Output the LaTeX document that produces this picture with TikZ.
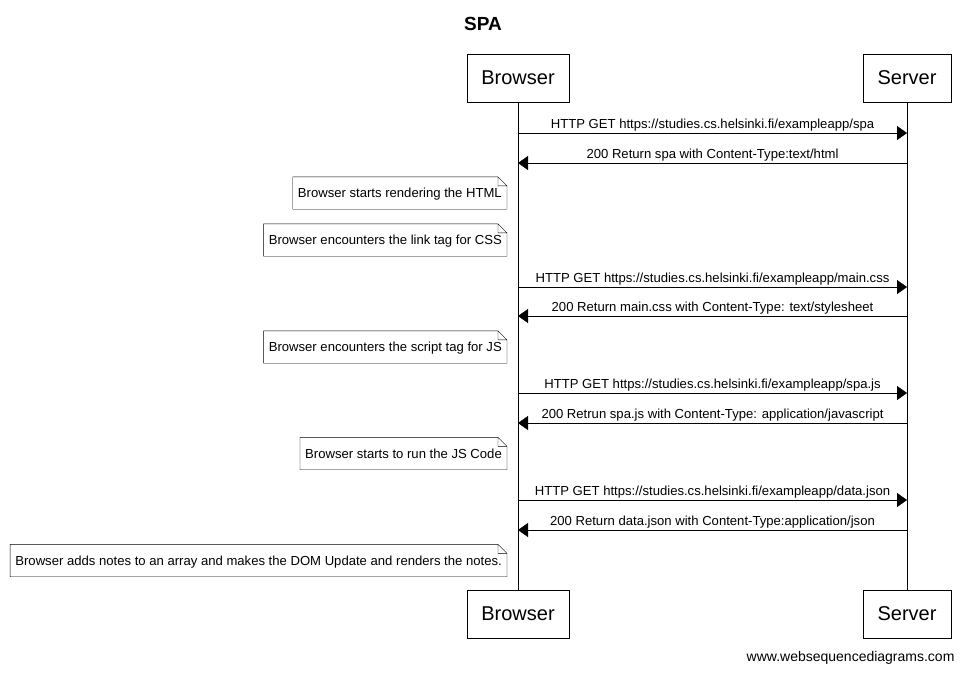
\documentclass[tikz,border=0pt]{standalone}
\usepackage{fontspec}
\setmainfont{Liberation Sans}
\usetikzlibrary{arrows.meta,positioning}
\tikzset{
x=1pt,
y=-1pt,
line width=1pt,
actor/.style={draw, minimum height=48pt, inner xsep=14.5pt, font=\fontsize{20}{24}\selectfont},
msg/.style={-{Triangle[length=10pt,width=14pt]}},
lbl/.style={above, inner sep=2pt, font=\fontsize{13.1}{15}\selectfont},
note/.style={anchor=east, inner xsep=5pt, minimum height=32pt, text depth=0pt, font=\fontsize{13.1}{15}\selectfont},
}

\begin{document}
\begin{tikzpicture}
    \useasboundingbox (0,0) rectangle (966,673);
    \node[font=\bfseries\fontsize{19}{22}\selectfont] (title) at (483,23.5) {SPA};

    \node[actor] (bTop) at (518,78) {Browser};
    \node[actor] (sTop) at (907,78) {Server};
    \node[actor] (bBot) at (518,614) {Browser};
    \node[actor] (sBot) at (907,614) {Server};
    \draw (bTop) -- (bBot);
    \draw (sTop) -- (sBot);

    \foreach \i/\y in {1/133,2/163,3/287,4/316,5/393,6/423,7/500,8/530}{
        \coordinate (b\i) at (bTop |- 0,\y);
        \coordinate (s\i) at (sTop |- 0,\y);
    }

    \draw[msg] (b1) -- node[lbl]{HTTP GET https://studies.cs.helsinki.fi/exampleapp/spa} (s1);
    \draw[msg] (s2) -- node[lbl]{200 Return spa with Content-Type:text/html} (b2);
    \draw[msg] (b3) -- node[lbl]{HTTP GET https://studies.cs.helsinki.fi/exampleapp/main.css} (s3);
    \draw[msg] (s4) -- node[lbl]{200 Return main.css with Content-Type: text/stylesheet} (b4);
    \draw[msg] (b5) -- node[lbl]{HTTP GET https://studies.cs.helsinki.fi/exampleapp/spa.js} (s5);
    \draw[msg] (s6) -- node[lbl]{200 Retrun spa.js with Content-Type: application/javascript} (b6);
    \draw[msg] (b7) -- node[lbl]{HTTP GET https://studies.cs.helsinki.fi/exampleapp/data.json} (s7);
    \draw[msg] (s8) -- node[lbl]{200 Return data.json with Content-Type:application/json} (b8);

    \node[note] (n1) at (507,193) {Browser starts rendering the HTML};
    \node[note] (n2) at (507,240) {Browser encounters the link tag for CSS};
    \node[note] (n3) at (507,347) {Browser encounters the script tag for JS};
    \node[note] (n4) at (507,453.5) {Browser starts to run the JS Code};
    \node[note] (n5) at (507,560.5) {Browser adds notes to an array and makes the DOM Update and renders the notes.};
    \foreach \n in {n1,n2,n3,n4,n5}
        \draw (\n.south west) -- (\n.south east) -- ([yshift=-9pt]\n.north east)
            -- ([xshift=-9pt]\n.north east) -- (\n.north west) -- cycle
            ([xshift=-9pt]\n.north east) |- ([yshift=-9pt]\n.north east);

    \node[anchor=east, font=\fontsize{14}{16}\selectfont] (credit) at (958,658) {www.websequencediagrams.com};
\end{tikzpicture}
\end{document}
